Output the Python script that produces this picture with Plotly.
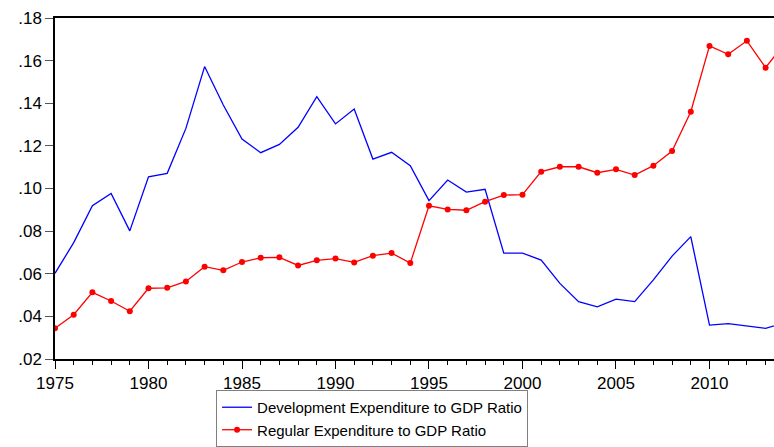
import plotly.graph_objects as go

years = list(range(1975, 2015))

development_ratio = [
    0.0602, 0.0746, 0.0919, 0.0977, 0.0801, 0.1055, 0.1071, 0.1282, 0.1572, 0.1392,
    0.1232, 0.1168, 0.1207, 0.1287, 0.1431, 0.1303, 0.1373, 0.1138, 0.1170, 0.1107,
    0.0943, 0.1040, 0.0983, 0.0996, 0.0697, 0.0697, 0.0664, 0.0555, 0.0469, 0.0445,
    0.0481, 0.0469, 0.0571, 0.0683, 0.0774, 0.0359, 0.0366, 0.0356, 0.0344, 0.0370,
]

regular_ratio = [
    0.0344, 0.0408, 0.0513, 0.0472, 0.0424, 0.0532, 0.0534, 0.0564, 0.0633, 0.0616,
    0.0655, 0.0675, 0.0677, 0.0639, 0.0663, 0.0671, 0.0653, 0.0685, 0.0697, 0.0650,
    0.0919, 0.0902, 0.0898, 0.0938, 0.0969, 0.0971, 0.1079, 0.1102, 0.1102, 0.1074,
    0.1090, 0.1063, 0.1107, 0.1176, 0.1360, 0.1669, 0.1630, 0.1693, 0.1567, 0.1680,
]

y_tickvals = [0.02, 0.04, 0.06, 0.08, 0.10, 0.12, 0.14, 0.16, 0.18]
y_ticktext = [".02", ".04", ".06", ".08", ".10", ".12", ".14", ".16", ".18"]
x_tickvals = [1975, 1980, 1985, 1990, 1995, 2000, 2005, 2010]

FONT = "Liberation Sans, Arial, sans-serif"

fig = go.Figure()
fig.add_trace(go.Scatter(
    x=years, y=development_ratio, mode="lines",
    name="Development Expenditure to GDP Ratio",
    line=dict(color="#0000ff", width=1.3),
))
fig.add_trace(go.Scatter(
    x=years, y=regular_ratio, mode="lines+markers",
    name="Regular Expenditure to GDP Ratio",
    line=dict(color="#ff0000", width=1.3),
    marker=dict(color="#ff0000", size=6),
))

fig.update_layout(
    width=774, height=447,
    margin=dict(l=55, r=0, t=18, b=88, autoexpand=False),
    paper_bgcolor="white", plot_bgcolor="white",
    font=dict(family=FONT, size=17, color="black"),
    showlegend=True,
    legend=dict(
        x=0.224, y=-0.258, xanchor="left", yanchor="bottom",
        bordercolor="#808080", borderwidth=1, bgcolor="white",
        font=dict(family=FONT, size=15, color="black"),
        tracegroupgap=0, itemwidth=30,
    ),
    xaxis=dict(
        range=[1975, 2013.45],
        tickvals=x_tickvals,
        ticks="outside", ticklen=8, tickcolor="black", tickwidth=1,
        minor=dict(dtick=1, tick0=1975, ticks="outside", ticklen=4, tickcolor="black", tickwidth=1),
        showline=True, linecolor="black", linewidth=1.5, mirror=True,
        showgrid=False, zeroline=False, automargin=False,
        tickfont=dict(family=FONT, size=17),
    ),
    yaxis=dict(
        range=[0.02, 0.18],
        tickvals=y_tickvals, ticktext=y_ticktext,
        ticks="outside", ticklen=8, tickcolor="#555555", tickwidth=1,
        showline=True, linecolor="black", linewidth=1.5,
        showgrid=False, zeroline=False, automargin=False,
        tickfont=dict(family=FONT, size=17),
    ),
)

fig.write_html(
    "out.html",
    config={"displayModeBar": False},
    post_script="document.body.style.margin='0';document.body.style.overflow='hidden';",
)
